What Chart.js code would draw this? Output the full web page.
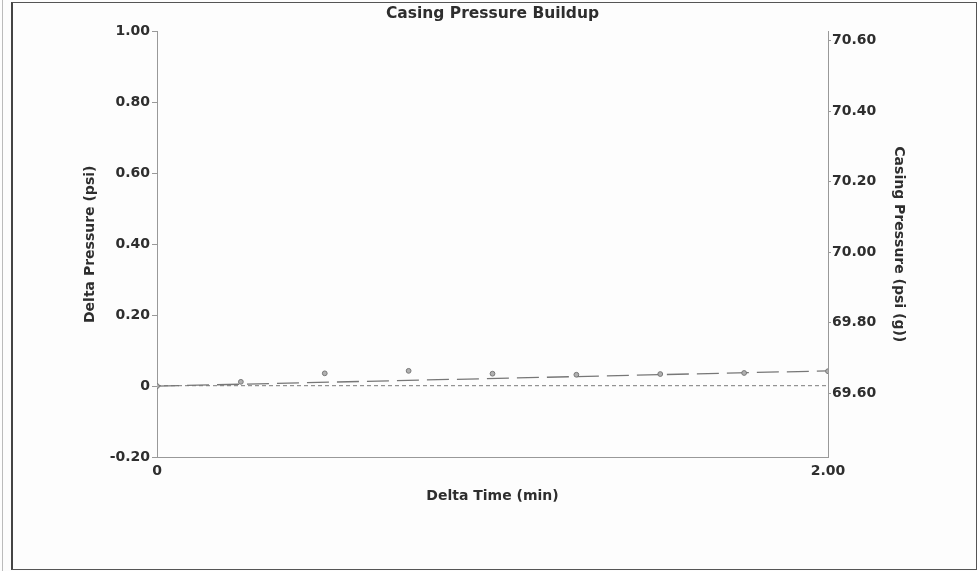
<!DOCTYPE html>
<html>
<head>
<meta charset="utf-8">
<script src="https://cdn.jsdelivr.net/npm/chart.js@4.4.1/dist/chart.umd.min.js"></script>
<style>
  body { margin: 0; background: #fff; }
  #wrap { position: relative; width: 977px; height: 571px; background: #fdfdfd; }
  #frame { position: absolute; left: 11px; top: 2px; width: 963px; height: 566px;
           border: 1px solid #555; border-left: 2px solid #444; pointer-events: none; }
  #edge { position: absolute; left: 2px; top: 0; width: 1px; height: 571px; background: #bbb; }
  canvas { position: absolute; left: 0; top: 0; }
</style>
</head>
<body>
<div id="wrap">
  <div id="edge"></div>
  <div id="frame"></div>
  <canvas id="buildupChart" width="977" height="571"></canvas>
</div>
<script>
// Delta time (min) of each reading and the delta pressure
const times = [0, 0.25, 0.5, 0.75, 1.0, 1.25, 1.5, 1.75, 2.0];
const deltaPressure = [0, 0.012, 0.036, 0.043, 0.035, 0.032, 0.034, 0.037, 0.042];

// Fitted trend (long dashes) and casing pressure (short dashes, right axis)
const trendTimes = [0, 2.0];
const trendValues = [0, 0.043];
const casingTimes = [0, 2.0];
const casingValues = [69.622, 69.622];

// Tick labels
const xTicks = [0, 2.0];
const rightTicks = [69.6, 69.8, 70.0, 70.2, 70.4, 70.6];

const textColor = '#2e2e2e';
const axisColor = '#999';
const family = '"DejaVu Sans", Verdana, sans-serif';
const font = { family: family, size: 14, weight: 'bold' };
const titleFont = { family: family, size: 14, weight: 'bold' };

const toPoints = (xs, ys) => xs.map((x, i) => ({ x: x, y: ys[i] }));

new Chart(document.getElementById('buildupChart'), {
  type: 'scatter',
  data: {
    datasets: [
      {
        label: 'Delta Pressure',
        data: toPoints(times, deltaPressure),
        yAxisID: 'y',
        showLine: false,
        pointRadius: 2.4,
        pointBackgroundColor: '#b0b0b0',
        pointBorderColor: '#777',
        pointBorderWidth: 1
      },
      {
        label: 'Trend',
        data: toPoints(trendTimes, trendValues),
        yAxisID: 'y',
        showLine: true,
        borderColor: '#777',
        borderWidth: 1.3,
        borderDash: [22, 8],
        pointRadius: 0
      },
      {
        label: 'Casing Pressure',
        data: toPoints(casingTimes, casingValues),
        yAxisID: 'y2',
        showLine: true,
        borderColor: '#7a7a7a',
        borderWidth: 1,
        borderDash: [4, 3],
        pointRadius: 0
      }
    ]
  },
  options: {
    responsive: false,
    animation: false,
    layout: { padding: 0 },
    plugins: {
      legend: { display: false },
      tooltip: { enabled: false },
      title: {
        display: true,
        text: 'Casing Pressure Buildup',
        color: textColor,
        font: { family: family, size: 15.5, weight: 'bold' },
        fullSize: false,
        padding: { top: 5, bottom: 8 }
      }
    },
    scales: {
      x: {
        type: 'linear',
        min: 0,
        max: 2,
        afterBuildTicks: (scale) => { scale.ticks = xTicks.map(v => ({ value: v })); },
        afterFit: (scale) => { scale.height = 114; },
        ticks: {
          color: textColor,
          font: font,
          padding: 6,
          maxRotation: 0,
          autoSkip: false,
          callback: (v) => v === 0 ? '0' : v.toFixed(2)
        },
        grid: { display: false, drawTicks: false, tickLength: 0 },
        border: { color: axisColor, width: 1 },
        title: {
          display: true,
          text: 'Delta Time (min)',
          color: textColor,
          font: titleFont,
          padding: { top: 0, bottom: 66 }
        }
      },
      y: {
        position: 'left',
        min: -0.2,
        max: 1.0,
        afterFit: (scale) => { scale.width = 157; },
        ticks: {
          stepSize: 0.2,
          color: textColor,
          font: font,
          padding: 2,
          callback: (v) => Math.abs(v) < 1e-9 ? '0' : v.toFixed(2)
        },
        grid: { display: true, drawOnChartArea: false, drawTicks: true, tickLength: 5, color: axisColor },
        border: { color: axisColor, width: 1 },
        title: {
          display: true,
          text: 'Delta Pressure (psi)',
          color: textColor,
          font: titleFont,
          padding: { top: 82, bottom: 0 }
        }
      },
      y2: {
        position: 'right',
        min: 69.42,
        max: 70.625,
        afterBuildTicks: (scale) => { scale.ticks = rightTicks.map(v => ({ value: v })); },
        afterFit: (scale) => { scale.width = 149; },
        ticks: {
          color: textColor,
          font: font,
          padding: 1,
          autoSkip: false,
          callback: (v) => v.toFixed(2)
        },
        grid: { display: true, drawOnChartArea: false, drawTicks: true, tickLength: 3, color: axisColor },
        border: { color: axisColor, width: 1 },
        title: {
          display: true,
          text: 'Casing Pressure (psi (g))',
          color: textColor,
          font: titleFont,
          padding: { top: 70, bottom: 0 }
        }
      }
    }
  }
});
</script>
</body>
</html>
